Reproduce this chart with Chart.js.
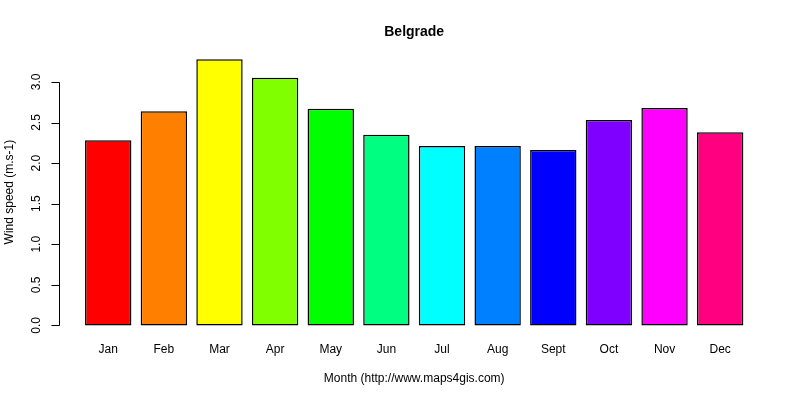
<!DOCTYPE html>
<html>
<head>
<meta charset="utf-8">
<script src="https://cdn.jsdelivr.net/npm/chart.js@4"></script>
<style>
  html, body { margin: 0; padding: 0; background: #fff; }
  canvas { display: block; }
</style>
</head>
<body>
<canvas id="myChart" width="800" height="400"></canvas>
<script>
const months = ['Jan', 'Feb', 'Mar', 'Apr', 'May', 'Jun', 'Jul', 'Aug', 'Sept', 'Oct', 'Nov', 'Dec'];
const windSpeed = [2.28, 2.64, 3.28, 3.05, 2.67, 2.35, 2.21, 2.21, 2.16, 2.53, 2.68, 2.38];
const barColors = ['#FF0000', '#FF8000', '#FFFF00', '#80FF00', '#00FF00', '#00FF80',
                   '#00FFFF', '#0080FF', '#0000FF', '#8000FF', '#FF00FF', '#FF0080'];
const yTicks = [0, 0.5, 1, 1.5, 2, 2.5, 3];

const FONT = '"Liberation Sans", Arial, sans-serif';

// R style y axis: line from first to last tick, outward ticks, rotated labels
const rAxis = {
  id: 'rAxis',
  afterDraw(chart) {
    const c = chart.ctx;
    const y = chart.scales.y;
    const axisX = 59;
    c.save();
    c.strokeStyle = '#000';
    c.lineWidth = 1;
    c.beginPath();
    c.moveTo(axisX + 0.5, Math.round(y.getPixelForValue(yTicks[0])) + 0.5);
    c.lineTo(axisX + 0.5, Math.round(y.getPixelForValue(yTicks[yTicks.length - 1])) + 0.5);
    yTicks.forEach(v => {
      const py = Math.round(y.getPixelForValue(v)) + 0.5;
      c.moveTo(axisX + 0.5, py);
      c.lineTo(axisX - 7.5, py);
    });
    c.stroke();

    c.fillStyle = '#000';
    c.font = '12px ' + FONT;
    c.textAlign = 'center';
    c.textBaseline = 'middle';
    yTicks.forEach(v => {
      c.save();
      c.translate(37, y.getPixelForValue(v));
      c.rotate(-Math.PI / 2);
      c.fillText(v.toFixed(1), 0, 0);
      c.restore();
    });

    c.save();
    c.translate(10, (chart.chartArea.top + chart.chartArea.bottom) / 2);
    c.rotate(-Math.PI / 2);
    c.fillText('Wind speed (m.s-1)', 0, 0);
    c.restore();
    c.restore();
  }
};

new Chart(document.getElementById('myChart'), {
  type: 'bar',
  data: {
    labels: months,
    datasets: [{
      data: windSpeed,
      backgroundColor: barColors,
      borderColor: '#000',
      borderWidth: 1.5,
      borderSkipped: false,
      categoryPercentage: 1,
      barPercentage: 1 / 1.2
    }]
  },
  options: {
    responsive: false,
    animation: false,
    devicePixelRatio: 1,
    layout: { padding: { left: 80.4, right: 52, top: 0, bottom: 0 } },
    plugins: {
      legend: { display: false },
      tooltip: { enabled: false },
      title: {
        display: true,
        text: 'Belgrade',
        color: '#000',
        font: { family: FONT, size: 14, weight: 'bold', lineHeight: 1.2 },
        padding: { top: 23.6, bottom: 7.6 }
      }
    },
    scales: {
      x: {
        grid: { display: false, drawTicks: false },
        border: { display: false },
        ticks: {
          color: '#000',
          padding: 5.8,
          maxRotation: 0,
          autoSkip: false,
          font: { family: FONT, size: 12, lineHeight: 1.2 }
        },
        title: {
          display: true,
          text: 'Month (http://www.maps4gis.com)',
          color: '#000',
          font: { family: FONT, size: 12, lineHeight: 1.2 },
          padding: { top: 9.6, bottom: 13.8 }
        }
      },
      y: {
        display: false,
        min: -0.133,
        max: 3.418
      }
    }
  },
  plugins: [rAxis]
});
</script>
</body>
</html>
